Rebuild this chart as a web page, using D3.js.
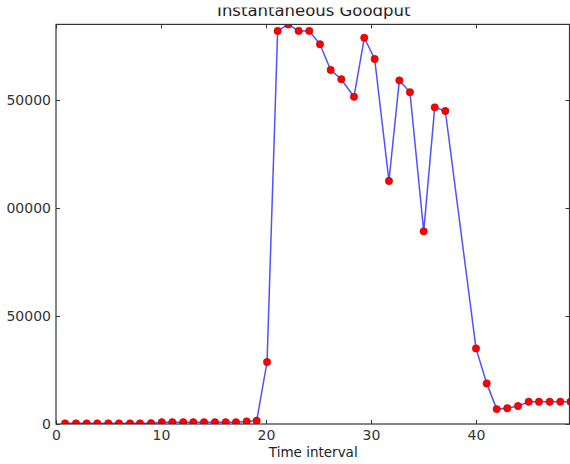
<!DOCTYPE html>
<html>
<head>
<meta charset="utf-8">
<script src="https://cdn.jsdelivr.net/npm/d3@7/dist/d3.min.js"></script>
<style>
  html, body { margin: 0; padding: 0; background: #fff; }
  svg { display: block; font-family: "DejaVu Sans", sans-serif; }
</style>
</head>
<body>
<svg id="chart" width="570" height="464"></svg>
<script>
// Data
const timeValues = [
  0.86, 1.90, 2.92, 3.93, 4.98, 6.00, 7.05, 8.00, 9.05, 10.07,
  11.08, 12.12, 13.08, 14.10, 15.14, 16.16, 17.14, 18.16, 19.11, 20.10,
  21.11, 22.12, 23.11, 24.12, 25.14, 26.16, 27.17, 28.38, 29.36, 30.35,
  31.71, 32.70, 33.71, 35.02, 36.07, 37.08,
  40.00, 41.02, 41.97, 42.98, 44.00, 45.02, 46.00, 47.02, 48.03, 49.00
];
const goodputValues = [
  300, 300, 300, 300, 300, 300, 300, 300, 400, 800,
  800, 800, 800, 800, 800, 800, 800, 1200, 1500, 28700,
  182000, 185000, 182000, 182000, 175800, 163900, 159600, 151500, 178800, 169000,
  112500, 159100, 153600, 89200, 146600, 144900,
  35000, 18800, 6900, 7300, 8300, 10300, 10300, 10300, 10300, 10300
];
const xTicks = [0, 10, 20, 30, 40];
const yTicks = [0, 50000, 100000, 150000];
const titleText = "Instantaneous Goodput";
const xLabelText = "Time interval";

(function () {
const points = timeValues.map((t, i) => ({ t, v: goodputValues[i] }));

const svg = d3.select("#chart");
const mLeft = 56, mRight = 570.5, mTop = 24.4, mBottom = 424;

const x = d3.scaleLinear().domain([0, 49]).range([mLeft, mRight]);
const y = d3.scaleLinear().domain([0, 185000]).range([mBottom, mTop]);

const defs = svg.append("defs");
defs.append("clipPath").attr("id", "plotclip")
  .append("rect")
  .attr("x", mLeft).attr("y", mTop)
  .attr("width", mRight - mLeft).attr("height", mBottom - mTop);
// the reference picture is cropped: left edge of y labels and top of title are cut
defs.append("clipPath").attr("id", "ylabclip")
  .append("rect").attr("x", 6).attr("y", 0).attr("width", 600).attr("height", 464);
defs.append("clipPath").attr("id", "titleclip")
  .append("rect").attr("x", 0).attr("y", 7.5).attr("width", 570).attr("height", 30);

const plot = svg.append("g").attr("clip-path", "url(#plotclip)");

plot.append("path")
  .datum(points)
  .attr("fill", "none")
  .attr("stroke", "#5050ff")
  .attr("stroke-width", 1.5)
  .attr("d", d3.line().x(d => x(d.t)).y(d => y(d.v)));

plot.selectAll("circle")
  .data(points)
  .join("circle")
  .attr("cx", d => x(d.t))
  .attr("cy", d => y(d.v))
  .attr("r", 3.7)
  .attr("fill", "#ff0000")
  .attr("stroke", "#a00")
  .attr("stroke-width", 0.5);

const tickColor = "#333";
const fontSize = "14px";

const gx = svg.append("g").attr("transform", `translate(0,${mBottom})`)
  .call(d3.axisBottom(x).tickValues(xTicks).tickFormat(d3.format("d")).tickSize(-4).tickPadding(6));
const gxt = svg.append("g").attr("transform", `translate(0,${mTop})`)
  .call(d3.axisTop(x).tickValues(xTicks).tickFormat("").tickSize(-4));
const gyWrap = svg.append("g").attr("clip-path", "url(#ylabclip)");
const gy = gyWrap.append("g").attr("transform", `translate(${mLeft},0)`)
  .call(d3.axisLeft(y).tickValues(yTicks).tickFormat(d3.format("d")).tickSize(-4).tickPadding(5));
const gyr = svg.append("g").attr("transform", `translate(${mRight - 1},0)`)
  .call(d3.axisRight(y).tickValues(yTicks).tickFormat("").tickSize(-4));

[gx, gxt, gy, gyr].forEach(g => {
  g.select(".domain").remove();
  g.selectAll(".tick line").attr("stroke", tickColor).attr("stroke-width", 1);
  g.selectAll(".tick text")
    .attr("fill", "#333")
    .style("font-size", fontSize)
    .style("font-family", "'DejaVu Sans', sans-serif");
});

svg.append("rect")
  .attr("x", mLeft).attr("y", mTop)
  .attr("width", mRight - 1 - mLeft).attr("height", mBottom - mTop)
  .attr("fill", "none")
  .attr("stroke", "#333")
  .attr("stroke-width", 1.2);

svg.append("g").attr("clip-path", "url(#titleclip)")
  .append("text")
  .attr("x", (mLeft + mRight) / 2 + 0.5)
  .attr("y", 16)
  .attr("text-anchor", "middle")
  .attr("fill", "#222")
  .style("font-size", "16.5px")
  .text(titleText);

svg.append("text")
  .attr("x", (mLeft + mRight) / 2)
  .attr("y", 457)
  .attr("text-anchor", "middle")
  .attr("fill", "#222")
  .style("font-size", "13.5px")
  .text(xLabelText);
})();
</script>
</body>
</html>
